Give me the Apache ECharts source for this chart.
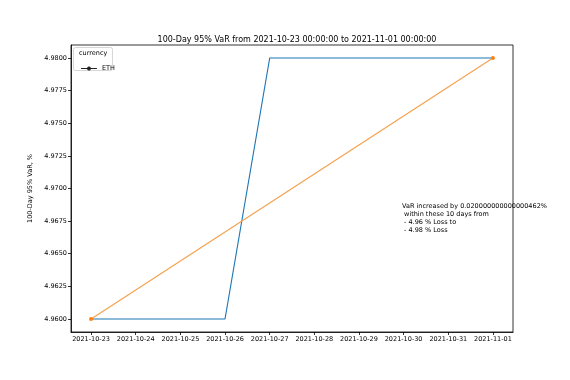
<!DOCTYPE html>
<html><head><meta charset="utf-8">
<script src="https://cdn.jsdelivr.net/npm/echarts@6/dist/echarts.min.js"></script>
<style>html,body{margin:0;padding:0;background:#fff}#c{width:570px;height:380px}</style>
</head><body><div id="c"></div>
<script>
const dates = ['2021-10-23','2021-10-24','2021-10-25','2021-10-26','2021-10-27','2021-10-28','2021-10-29','2021-10-30','2021-10-31','2021-11-01'];
const ethVaR = [4.96,4.96,4.96,4.96,4.98,4.98,4.98,4.98,4.98,4.98];
const trendX = [0, 9];
const trendY = [4.96, 4.98];
const yTicks = [4.96,4.9625,4.965,4.9675,4.97,4.9725,4.975,4.9775,4.98];
const titleText = '100-Day 95% VaR from 2021-10-23 00:00:00 to 2021-11-01 00:00:00';
const noteText = 'VaR increased by 0.020000000000000462%\n within these 10 days from\n - 4.96 % Loss to\n - 4.98 % Loss';

const F = 'DejaVu Sans';
const chart = echarts.init(document.getElementById('c'), null, {renderer:'canvas'});
chart.setOption({
  animation:false,
  backgroundColor:'#fff',
  title:{text:titleText, left:292, textAlign:'center', top:31,
    textStyle:{fontFamily:F, fontSize:8, fontWeight:'normal', color:'#000'}},
  grid:{left:71, right:57, top:45, bottom:48, show:true, borderColor:'#000', borderWidth:0.8, backgroundColor:'transparent'},
  xAxis:{type:'value', min:-0.45, max:9.45,
    axisLine:{show:true, onZero:false, lineStyle:{color:'#000', width:0.8}},
    axisTick:{show:true, customValues:dates.map((d,i)=>i), length:3, lineStyle:{color:'#000', width:0.8}},
    axisLabel:{customValues:dates.map((d,i)=>i), formatter:v=>dates[Math.round(v)], fontFamily:F, fontSize:6.5, color:'#000', margin:4},
    splitLine:{show:false}},
  yAxis:{type:'value', min:4.959, max:4.981,
    name:'100-Day 95% VaR, %', nameLocation:'middle', nameGap:32, nameRotate:90,
    nameTextStyle:{fontFamily:F, fontSize:6.5, color:'#000'},
    axisLine:{show:true, onZero:false, lineStyle:{color:'#000', width:0.8}},
    axisTick:{show:true, customValues:yTicks, length:3, lineStyle:{color:'#000', width:0.8}},
    axisLabel:{customValues:yTicks, formatter:v=>v.toFixed(4), fontFamily:F, fontSize:6.5, color:'#000', margin:4},
    splitLine:{show:false}},
  legend:{show:true, left:76, top:60, orient:'vertical', itemWidth:16, itemHeight:4, itemGap:2, z:20,
    textStyle:{fontFamily:F, fontSize:6.5, color:'#000'},
    data:[{name:'ETH', icon:'path://M0,2L6.06,2A2,2 0 0 1 9.94,2L16,2L16,3L9.94,3A2,2 0 0 1 6.06,3L0,3Z', itemStyle:{color:'#222'}}]},
  graphic:[
    {type:'rect', shape:{x:73.5, y:47.5, width:39, height:23, r:2}, style:{fill:'rgba(255,255,255,0.8)', stroke:'#ccc', lineWidth:0.8}, z:3},
    {type:'text', x:79, y:50, style:{text:'currency', fontFamily:F, fontSize:6.5, fill:'#000'}, z:21},
    {type:'text', x:402, y:202, style:{text:noteText, fontFamily:F, fontSize:6.5, lineHeight:8, fill:'#000'}, z:21}
  ],
  series:[
    {name:'ETH', type:'line', data:ethVaR.map((v,i)=>[i,v]), showSymbol:false, symbol:'none',
      lineStyle:{color:'#1f77b4', width:1.1}, itemStyle:{color:'#1f77b4'}},
    {name:'trend', type:'line', data:trendX.map((x,i)=>[x,trendY[i]]), symbol:'circle', symbolSize:4,
      lineStyle:{color:'#f5a04a', width:1.1}, itemStyle:{color:'#ff7f0e'}}
  ]
});
</script></body></html>
